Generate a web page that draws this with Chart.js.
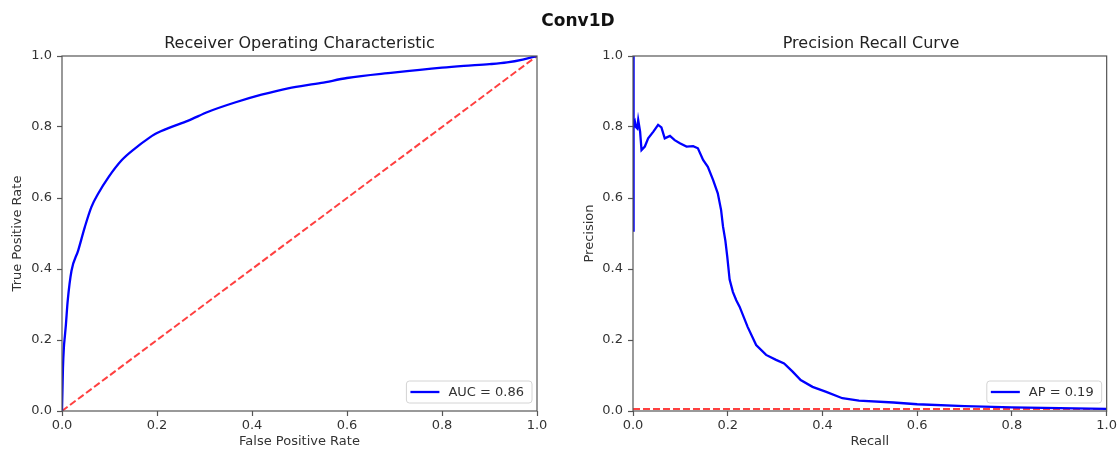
<!DOCTYPE html>
<html>
<head>
<meta charset="utf-8">
<script src="https://cdn.jsdelivr.net/npm/chart.js@4/dist/chart.umd.min.js"></script>
<style>
  html, body { margin: 0; padding: 0; background: #ffffff; }
  #wrap { position: relative; width: 1119px; height: 450px; overflow: hidden; font-family: "DejaVu Sans", sans-serif; }
  .ttl { position: absolute; white-space: nowrap; color: #222; transform: translate(-50%, -50%); }
  #sup { left: 578px; top: 20px; font-size: 17px; font-weight: bold; color: #111; }
  #t1 { left: 299.5px; top: 42px; font-size: 16px; }
  #t2 { left: 871px; top: 42px; font-size: 16px; }
  canvas { position: absolute; top: 0; }
  #c1 { left: 0; }
  #c2 { left: 560px; }
</style>
</head>
<body>
<div id="wrap">
  <canvas id="c1" width="560" height="450"></canvas>
  <canvas id="c2" width="559" height="450"></canvas>
  <div class="ttl" id="sup">Conv1D</div>
  <div class="ttl" id="t1">Receiver Operating Characteristic</div>
  <div class="ttl" id="t2">Precision Recall Curve</div>
</div>
<script>
// ---- data ----
const tickValues = [0.0, 0.2, 0.4, 0.6, 0.8, 1.0];

const rocFpr = [0, 0.001, 0.002, 0.004, 0.006, 0.008, 0.012, 0.020, 0.034, 0.048, 0.062, 0.076, 0.098, 0.126, 0.154, 0.182, 0.196, 0.208, 0.224, 0.266, 0.308, 0.364, 0.420, 0.476, 0.546, 0.600, 0.697, 0.800, 0.846, 0.900, 0.937, 0.970, 1.0];
const rocTpr = [0, 0.06, 0.12, 0.18, 0.21, 0.24, 0.31, 0.395, 0.452, 0.518, 0.575, 0.612, 0.659, 0.707, 0.740, 0.768, 0.780, 0.788, 0.797, 0.818, 0.843, 0.869, 0.891, 0.909, 0.924, 0.938, 0.953, 0.967, 0.972, 0.977, 0.982, 0.990, 1.0];
const rocLabel = "AUC = 0.86";

const chanceRocX = [0, 1];
const chanceRocY = [0, 1];

const prRecall = [0, 0.0005, 0.001, 0.0015, 0.002, 0.004, 0.006, 0.009, 0.011, 0.015, 0.018, 0.025, 0.032, 0.043, 0.053, 0.060, 0.067, 0.078, 0.088, 0.099, 0.113, 0.127, 0.137, 0.148, 0.158, 0.169, 0.179, 0.186, 0.190, 0.195, 0.199, 0.204, 0.211, 0.218, 0.225, 0.242, 0.260, 0.281, 0.302, 0.319, 0.337, 0.354, 0.379, 0.408, 0.442, 0.477, 0.55, 0.60, 0.70, 0.80, 0.90, 1.0];
const prPrecision = [1.0, 0.505, 0.575, 0.70, 0.806, 0.815, 0.80, 0.796, 0.820, 0.787, 0.735, 0.745, 0.768, 0.787, 0.806, 0.799, 0.768, 0.775, 0.763, 0.754, 0.745, 0.746, 0.740, 0.707, 0.688, 0.651, 0.613, 0.566, 0.52, 0.48, 0.435, 0.370, 0.335, 0.312, 0.294, 0.237, 0.186, 0.158, 0.144, 0.134, 0.111, 0.087, 0.068, 0.054, 0.036, 0.029, 0.024, 0.019, 0.014, 0.010, 0.008, 0.006];
const prLabel = "AP = 0.19";

const baselineX = [0, 1];
const baselineY = [0.0055, 0.0055];

// ---- helpers ----
const zip = (xs, ys) => xs.map((x, i) => ({ x: x, y: ys[i] }));
const FONT = "'DejaVu Sans', sans-serif";
const AX = '#555';
const TXT = '#333';

const framePlugin = {
  id: 'frame',
  afterDraw(chart) {
    const a = chart.chartArea, ctx = chart.ctx;
    ctx.save();
    ctx.strokeStyle = AX;
    ctx.lineWidth = 1.2;
    ctx.strokeRect(a.left, a.top, a.right - a.left, a.bottom - a.top);
    ctx.restore();
  }
};

const boxLegend = {
  id: 'boxLegend',
  afterDraw(chart) {
    const ds = chart.data.datasets[0];
    const a = chart.chartArea, ctx = chart.ctx;
    ctx.save();
    ctx.font = '13px ' + FONT;
    const tw = ctx.measureText(ds.label).width;
    const w = 42 + tw + 8, h = 22;
    const x = a.right - 5 - w, y = a.bottom - 8 - h;
    ctx.beginPath();
    if (ctx.roundRect) ctx.roundRect(x, y, w, h, 3); else ctx.rect(x, y, w, h);
    ctx.fillStyle = 'rgba(255,255,255,0.85)';
    ctx.fill();
    ctx.strokeStyle = '#d4d4d4';
    ctx.lineWidth = 1;
    ctx.stroke();
    ctx.beginPath();
    ctx.moveTo(x + 4, y + h / 2);
    ctx.lineTo(x + 33, y + h / 2);
    ctx.strokeStyle = ds.borderColor;
    ctx.lineWidth = 2.3;
    ctx.stroke();
    ctx.fillStyle = TXT;
    ctx.textBaseline = 'middle';
    ctx.textAlign = 'left';
    ctx.fillText(ds.label, x + 42, y + h / 2 + 0.5);
    ctx.restore();
  }
};

function axis(titleText, isY, fitSize, titlePad) {
  return {
    type: 'linear',
    min: 0, max: 1,
    afterBuildTicks(scale) { scale.ticks = tickValues.map(v => ({ value: v })); },
    afterFit(scale) { if (isY) scale.width = fitSize; else scale.height = fitSize; },
    grid: { display: true, drawOnChartArea: false, drawTicks: true, tickLength: 5, tickWidth: 1.2, tickColor: AX },
    border: { display: false },
    ticks: {
      color: TXT,
      font: { family: FONT, size: 13 },
      padding: isY ? 5 : 2,
      maxRotation: 0,
      autoSkip: false,
      callback: v => Number(v).toFixed(1)
    },
    title: {
      display: true,
      text: titleText,
      color: TXT,
      font: { family: FONT, size: 13 },
      padding: titlePad
    }
  };
}

function makeChart(id, datasets, xTitle, yTitle, yWidth, yTitlePad, padRight) {
  return new Chart(document.getElementById(id), {
    type: 'line',
    data: { datasets: datasets },
    options: {
      responsive: false,
      devicePixelRatio: 1,
      animation: false,
      layout: { padding: { left: 0, top: 56, right: padRight, bottom: 0 } },
      plugins: { legend: { display: false }, tooltip: { enabled: false }, title: { display: false } },
      elements: { point: { radius: 0 }, line: { tension: 0 } },
      scales: {
        x: axis(xTitle, false, 39, { top: 0, bottom: 1 }),
        y: axis(yTitle, true, yWidth, { top: yTitlePad, bottom: 0 })
      }
    },
    plugins: [framePlugin, boxLegend]
  });
}

makeChart('c1', [
  { label: rocLabel, data: zip(rocFpr, rocTpr), borderColor: '#0000ff', borderWidth: 2.3, cubicInterpolationMode: 'monotone', fill: false },
  { label: 'chance', data: zip(chanceRocX, chanceRocY), borderColor: 'rgba(255,0,0,0.75)', borderWidth: 2, borderDash: [7, 3], fill: false }
], 'False Positive Rate', 'True Positive Rate', 62, 10, 23);

makeChart('c2', [
  { label: prLabel, data: zip(prRecall, prPrecision), borderColor: '#0000ff', borderWidth: 2.3, fill: false },
  { label: 'baseline', data: zip(baselineX, baselineY), borderColor: 'rgba(255,0,0,0.75)', borderWidth: 2, borderDash: [7, 3], fill: false }
], 'Recall', 'Precision', 73, 22, 10);
</script>
</body>
</html>
